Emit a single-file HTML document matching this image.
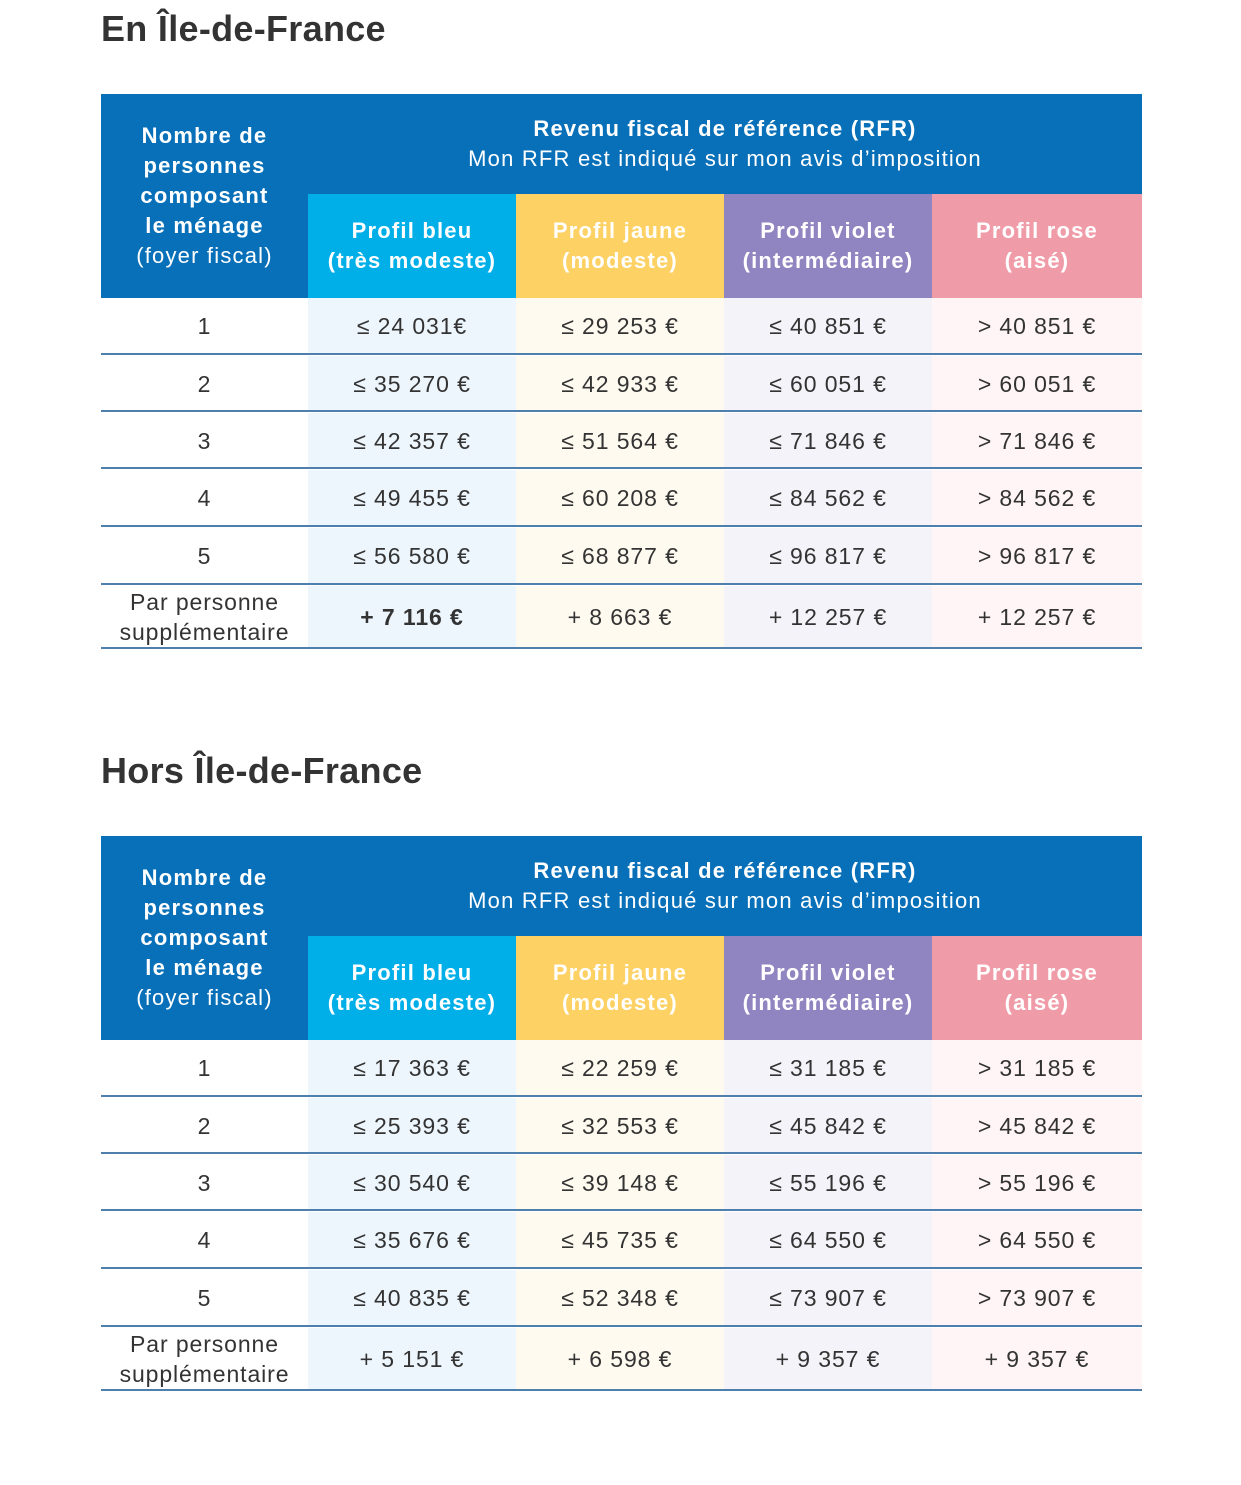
<!DOCTYPE html>
<html><head><meta charset="utf-8"><style>
body{margin:0;width:1241px;height:1485px;background:#fff;font-family:"Liberation Sans",sans-serif;position:relative;overflow:hidden;color:#333}
.t{position:absolute;left:101px;font-size:36px;font-weight:bold;color:#333;letter-spacing:0.3px}
.b{position:absolute;display:flex;align-items:center;justify-content:center;text-align:center;box-sizing:border-box}
.hd{color:#fff;font-size:22px;line-height:30px;letter-spacing:1.2px}
.c{font-size:23px;color:#333;letter-spacing:0.9px;line-height:30px}
.ln{position:absolute;left:101px;width:1041px;height:2px;background:#4f80ad}
</style></head><body>
<div id="root"></div>
<script>
const data=[
 {title:"En Île-de-France",top:0,rows:[["1","≤ 24 031€","≤ 29 253 €","≤ 40 851 €","> 40 851 €"],["2","≤ 35 270 €","≤ 42 933 €","≤ 60 051 €","> 60 051 €"],["3","≤ 42 357 €","≤ 51 564 €","≤ 71 846 €","> 71 846 €"],["4","≤ 49 455 €","≤ 60 208 €","≤ 84 562 €","> 84 562 €"],["5","≤ 56 580 €","≤ 68 877 €","≤ 96 817 €","> 96 817 €"],["Par personne<br>supplémentaire","<b>+ 7 116 €</b>","+ 8 663 €","+ 12 257 €","+ 12 257 €"]]},
 {title:"Hors Île-de-France",top:742,rows:[["1","≤ 17 363 €","≤ 22 259 €","≤ 31 185 €","> 31 185 €"],["2","≤ 25 393 €","≤ 32 553 €","≤ 45 842 €","> 45 842 €"],["3","≤ 30 540 €","≤ 39 148 €","≤ 55 196 €","> 55 196 €"],["4","≤ 35 676 €","≤ 45 735 €","≤ 64 550 €","> 64 550 €"],["5","≤ 40 835 €","≤ 52 348 €","≤ 73 907 €","> 73 907 €"],["Par personne<br>supplémentaire","+ 5 151 €","+ 6 598 €","+ 9 357 €","+ 9 357 €"]]}
];
const cx=[101,308,516,724,932,1142];
const hc=["#00aee8","#fdd163","#9085c0","#f09ca8"];
const tint=["#eef6fd","#fffaef","#f3f3f9","#fff5f6"];
const heads=["Profil bleu<br>(très modeste)","Profil jaune<br>(modeste)","Profil violet<br>(intermédiaire)","Profil rose<br>(aisé)"];
const rb=[298,354,411,468,526,584,648];
let h="";
function box(x,y,w,hh,bg,cls,txt){return `<div class="b ${cls}" style="left:${x}px;top:${y}px;width:${w}px;height:${hh}px;background:${bg}">${txt}</div>`;}
data.forEach((d,k)=>{
 const o=d.top;
 h+=`<div class="t" style="top:${d.top+8}px">${d.title}</div>`;
 h+=box(101,o+94,1041,204,"#0870b8","","");
 h+=box(101,o+94,207,204,"transparent","hd","<div><b>Nombre de<br>personnes<br>composant<br>le ménage</b><br>(foyer fiscal)</div>");
 h+=box(308,o+94,834,100,"transparent","hd","<div><b>Revenu fiscal de référence (RFR)</b><br>Mon RFR est indiqué sur mon avis d’imposition</div>");
 for(let i=0;i<4;i++){h+=box(cx[i+1],o+194,cx[i+2]-cx[i+1],104,hc[i],"hd","<b>"+heads[i]+"</b>");}
 d.rows.forEach((r,j)=>{
  const y=o+rb[j]+(j?2:0),hh=rb[j+1]-rb[j]-(j?2:0);
  for(let i=0;i<5;i++){h+=box(cx[i],y,cx[i+1]-cx[i],hh,i?tint[i-1]:"#fff","c",r[i]);}
  h+=`<div class="ln" style="top:${o+rb[j+1]-1}px"></div>`;
 });
});
document.getElementById("root").innerHTML=h;
</script>
</body></html>
